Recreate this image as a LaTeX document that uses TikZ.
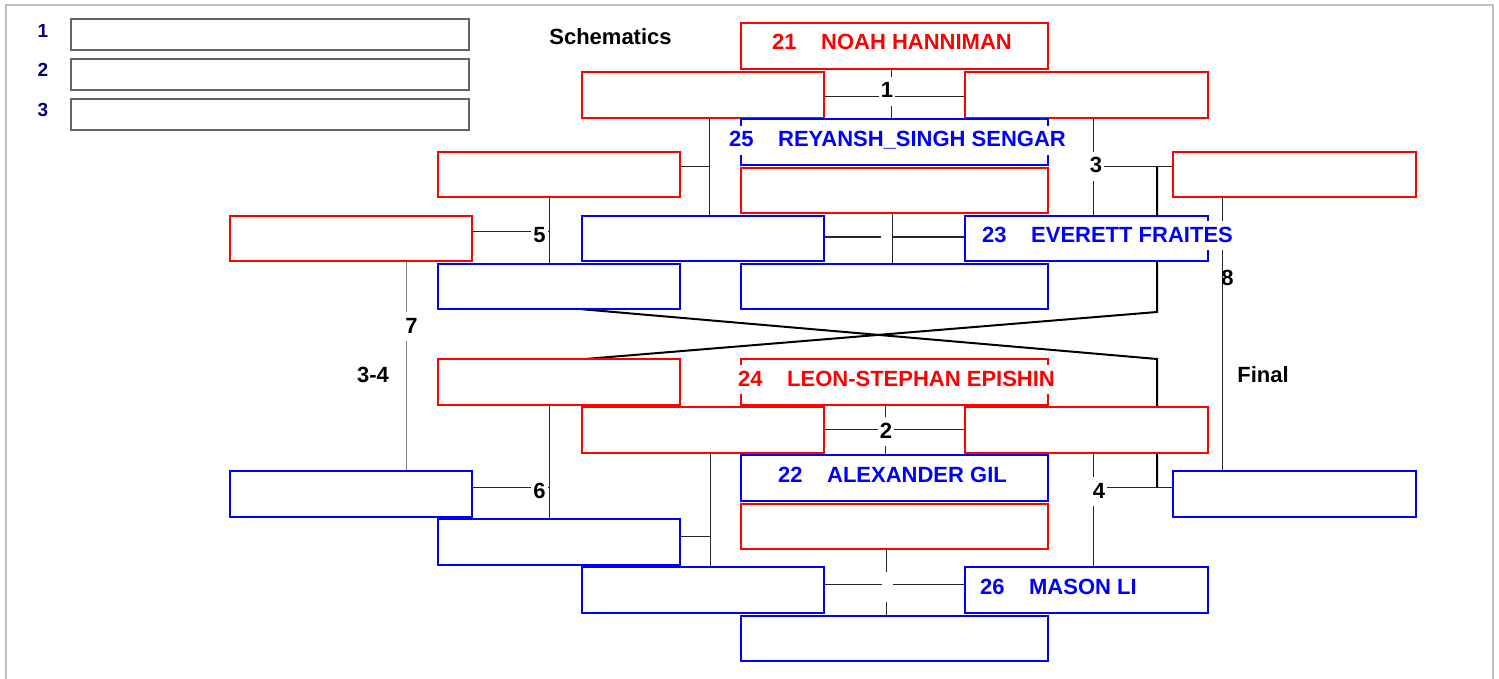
\documentclass[tikz,border=0pt]{standalone}
\usepackage{fontspec}
\setmainfont{Liberation Sans}
\usetikzlibrary{backgrounds}
\definecolor{rd}{RGB}{255,0,0}
\definecolor{bl}{RGB}{0,0,255}
\definecolor{nv}{RGB}{0,0,128}
\begin{document}
\begin{tikzpicture}[x=1pt,y=-1pt,
 pbox/.style={line width=2pt, fill=white, inner sep=0pt, outer sep=0pt, minimum height=45.5pt},
 bigbox/.style={pbox, minimum width=307pt},
 midbox/.style={pbox, minimum width=242.5pt},
 rb/.style={draw=rd}, bb/.style={draw=bl},
 nm/.style={font=\bfseries\fontsize{22}{26}\selectfont, fill=white, inner xsep=1pt, inner ysep=2pt, text height=19pt, text depth=6pt, anchor=base west},
 lab/.style={font=\bfseries\fontsize{22}{26}\selectfont, fill=white, inner xsep=2pt, inner ysep=2pt, text height=19pt, text depth=6pt, anchor=base},
 ttl/.style={font=\bfseries\fontsize{22}{26}\selectfont, inner sep=0pt, anchor=base},
 blank/.style={fill=white, minimum width=11pt, minimum height=30pt, inner sep=0pt},
 ln/.style={black!85, line width=1pt},
 thk/.style={black, line width=2pt},
 leg/.style={draw=black!60, line width=2pt, minimum width=398pt, minimum height=31pt, inner sep=0pt},
 legn/.style={font=\bfseries\fontsize{19}{23}\selectfont, text=nv, anchor=base, inner sep=0pt}
]
\useasboundingbox (0,0) rectangle (1499,679);
% outer frame
\draw[black!25, line width=2pt] (5.5,690) -- (5.5,5.5) -- (1493,5.5) -- (1493,690);

% legend
\node[legn] (n1) at (43,38) {1};
\node[legn] (n2) at (43,77) {2};
\node[legn] (n3) at (43,117) {3};
\node[leg] (g1) at (270,34.5) {};
\node[leg] (g2) at (270,74.5) {};
\node[leg] (g3) at (270,114.5) {};

% titles
\node[ttl] (sch) at (610.5,45) {Schematics};
\node[ttl] (t34) at (373,382) {3-4};
\node[ttl] (fin) at (1263,382) {Final};

% boxes, upper half
\node[bigbox,rb] (b21) at (894.5,46) {};
\node[midbox,rb] (r1L) at (703,95) {};
\node[midbox,rb] (r1R) at (1086.5,95) {};
\node[bigbox,bb] (b25) at (894.5,142) {};
\node[bigbox,rb] (r2M) at (894.5,190.5) {};
\node[midbox,rb] (r2L) at (559,174.5) {};
\node[midbox,bb] (b3L) at (703,238.5) {};
\node[midbox,bb] (b23) at (1086.5,238.5) {};
\node[midbox,bb] (b4L) at (559,286.5) {};
\node[bigbox,bb] (b4M) at (894.5,286.5) {};
\node[midbox,rb] (r5L) at (351,238.5) {};
\node[midbox,rb] (rFR) at (1294.5,174.5) {};

% boxes, lower half
\node[bigbox,rb] (b24) at (894.5,382) {};
\node[midbox,rb] (r6L) at (559,382) {};
\node[midbox,rb] (r7L) at (703,430) {};
\node[midbox,rb] (r7R) at (1086.5,430) {};
\node[bigbox,bb] (b22) at (894.5,478) {};
\node[bigbox,rb] (r8M) at (894.5,526.5) {};
\node[midbox,bb] (bFL) at (351,494) {};
\node[midbox,bb] (b9L) at (559,542) {};
\node[midbox,bb] (b10L) at (703,590) {};
\node[midbox,bb] (b26) at (1086.5,590) {};
\node[bigbox,bb] (b11M) at (894.5,638.5) {};
\node[midbox,bb] (bFR) at (1294.5,494) {};

% match labels
\node[lab] (lab1) at (887,98) {1};
\node[lab] (lab2) at (886,438) {2};
\node[lab] (lab3) at (1096,173) {3};
\node[lab] (lab4) at (1099,498) {4};
\node[lab] (lab5) at (539.5,243) {5};
\node[lab] (lab6) at (539.5,498) {6};
\node[lab] (lab7) at (411.5,333) {7};
\node[lab,fill=none] (lab8) at (1227.5,285) {8};
\node[blank] (blk1) at (886.5,235) {};
\node[blank] (blk2) at (887,587) {};

% junction coordinates
\coordinate (j3) at (1157,167);
\coordinate (j4) at (1157,487);
\coordinate (k3) at (1157,312);
\coordinate (k4) at (1157,359);
\coordinate (v5) at (549,232);
\coordinate (v6) at (549,487);
\coordinate (w1) at (709,167);
\coordinate (w2) at (710,536);

\begin{pgfonlayer}{background}
% match 1
\draw[ln] ([yshift=-2pt]r1L.east) -- ([yshift=-2pt]r1R.west);
\draw[ln] ([xshift=-3.5pt]b21.south) -- ([xshift=-3.5pt]b25.north);
% upper blank match
\draw[ln] ([yshift=1.5pt]b3L.east) -- ([yshift=1.5pt]b23.west);
\draw[ln] ([xshift=-2.5pt]r2M.south) -- ([xshift=-2.5pt]b4M.north);
% match 2
\draw[ln] ([yshift=1pt]r7L.east) -- ([yshift=1pt]r7R.west);
\draw[ln] ([xshift=-9.5pt]b24.south) -- ([xshift=-9.5pt]b22.north);
% lower blank match
\draw[ln] ([yshift=6pt]b10L.east) -- ([yshift=6pt]b26.west);
\draw[ln] ([xshift=-8.5pt]r8M.south) -- ([xshift=-8.5pt]b11M.north);
% match 3
\draw[ln] ([xshift=6.5pt]r1R.south) -- ([xshift=6.5pt]b23.north);
\draw[ln] (lab3.center |- j3) -- (j3 -| rFR.west);
% match 4
\draw[ln] ([xshift=6.5pt]r7R.south) -- ([xshift=6.5pt]b26.north);
\draw[ln] (lab4.center |- j4) -- (j4 -| bFR.west);
% match 5
\draw[ln] (r5L.east |- v5) -- (v5);
\draw[ln] ([xshift=-10pt]r2L.south) -- ([xshift=-10pt]b4L.north);
% match 6
\draw[ln] (bFL.east |- v6) -- (v6);
\draw[ln] ([xshift=-10pt]r6L.south) -- ([xshift=-10pt]b9L.north);
% match 7
\draw[black!50, line width=1pt] ([xshift=55pt]r5L.south) -- ([xshift=55pt]bFL.north);
% match 8
\draw[ln] ([xshift=-72.5pt]rFR.south) -- ([xshift=-72.5pt]bFR.north);
% repechage feeds
\draw[ln] ([xshift=6pt]r1L.south) -- ([xshift=6pt]b3L.north);
\draw[ln] (r2L.east |- w1) -- (w1);
\draw[ln] ([xshift=7pt]r7L.south) -- ([xshift=7pt]b10L.north);
\draw[ln] (b9L.east |- w2) -- (w2);
% loser routes
\draw[thk] ([xshift=23pt]b4L.south) -- (k4) -- (j4);
\draw[thk] (j3) -- (k3) -- ([xshift=23pt]r6L.north);
\end{pgfonlayer}

% names
\node[nm, text=rd] (t21) at (771,50) {21\hspace{24.5pt}NOAH HANNIMAN};
\node[nm, text=bl] (t25) at (728,147) {25\hspace{24.5pt}REYANSH\_SINGH SENGAR};
\node[nm, text=bl] (t23) at (981,242) {23\hspace{24.5pt}EVERETT FRAITES};
\node[nm, text=rd] (t24) at (737,386) {24\hspace{24.5pt}LEON-STEPHAN EPISHIN};
\node[nm, text=bl] (t22) at (777,482) {22\hspace{24.5pt}ALEXANDER GIL};
\node[nm, text=bl] (t26) at (979,594) {26\hspace{24.5pt}MASON LI};
\end{tikzpicture}
\end{document}
